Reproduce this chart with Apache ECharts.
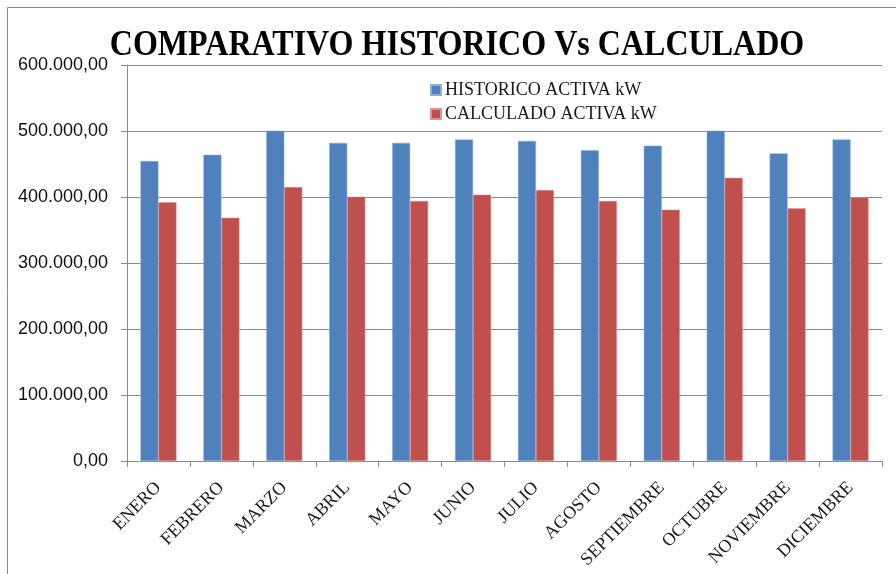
<!DOCTYPE html>
<html>
<head>
<meta charset="utf-8">
<script src="https://cdn.jsdelivr.net/npm/echarts@6/dist/echarts.min.js"></script>
<style>
html,body{margin:0;padding:0;background:#fff;}
#chart{width:896px;height:574px;}
</style>
</head>
<body>
<div id="chart"></div>
<script>
var titleText = 'COMPARATIVO HISTORICO Vs CALCULADO';
var months = ['ENERO','FEBRERO','MARZO','ABRIL','MAYO','JUNIO','JULIO','AGOSTO','SEPTIEMBRE','OCTUBRE','NOVIEMBRE','DICIEMBRE'];
var seriesNames = ['HISTORICO ACTIVA kW','CALCULADO ACTIVA kW'];
var historico = [454500, 464000, 500500, 482000, 482000, 487000, 485000, 470700, 477800, 500500, 466000, 487000];
var calculado = [392000, 368600, 415000, 400500, 394000, 403500, 410600, 394000, 380800, 429000, 382800, 399500];
var yTicks = [0, 100000, 200000, 300000, 400000, 500000, 600000];

function fmt(v){
  var s = Math.round(v).toString().replace(/\B(?=(\d{3})+(?!\d))/g, '.');
  return s + ',00';
}

var chart = echarts.init(document.getElementById('chart'), null, {renderer:'canvas'});
var option = {
  backgroundColor: '#ffffff',
  animation: false,
  graphic: [
    {type:'rect', z:-10, shape:{x:7.5, y:7.5, width:1000, height:1000}, style:{fill:'none', stroke:'#8c8c8c', lineWidth:1}},
    {type:'text', x:457, y:46, scaleX:0.89, z:10,
     style:{text:titleText, x:0, y:0, textAlign:'center', textVerticalAlign:'middle', font:'bold 36px "Liberation Serif"', fill:'#000'}}
  ],
  legend: {
    orient: 'vertical',
    left: 425, top: 75,
    itemWidth: 10, itemHeight: 10, itemGap: 4,
    icon: 'rect',
    textStyle: {fontFamily:'Liberation Serif', fontSize:18, color:'#1a1a1a', padding:[0,0,0,-1], lineHeight:20},
    data: seriesNames
  },
  grid: {left:127, right:14, top:65, bottom:113, containLabel:false},
  xAxis: {
    type: 'category',
    data: months,
    boundaryGap: true,
    axisLine: {show:true, lineStyle:{color:'#8c8c8c', width:1}},
    axisTick: {show:true, length:6, alignWithLabel:false, lineStyle:{color:'#8c8c8c'}},
    axisLabel: {rotate:45, interval:0, margin:24, fontFamily:'Liberation Serif', fontSize:18, color:'#1a1a1a'},
    splitLine: {show:false}
  },
  yAxis: {
    type: 'value',
    min: yTicks[0], max: yTicks[yTicks.length-1], interval: 100000,
    axisLine: {show:true, lineStyle:{color:'#8c8c8c', width:1}},
    axisTick: {show:true, length:6, lineStyle:{color:'#8c8c8c'}},
    axisLabel: {margin:19, fontFamily:'Liberation Sans', fontSize:18, color:'#111', formatter: fmt},
    splitLine: {show:true, lineStyle:{color:'#8c8c8c', width:1}}
  },
  series: [
    {name:seriesNames[0], type:'bar', data:historico, barWidth:18, barGap:'0%',
     itemStyle:{color:'#4F81BD', borderColor:'#8FAFD9', borderWidth:0.5}},
    {name:seriesNames[1], type:'bar', data:calculado, barWidth:18, barGap:'0%',
     itemStyle:{color:'#C0504D', borderColor:'#E19592', borderWidth:0.5}}
  ]
};
chart.setOption(option);
</script>
</body>
</html>
